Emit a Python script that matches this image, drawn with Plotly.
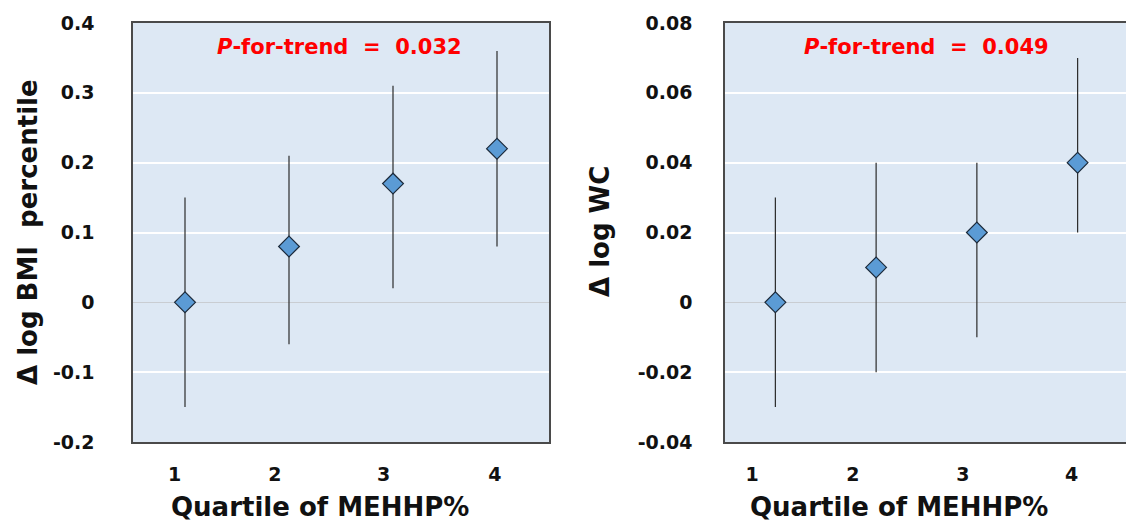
import plotly.graph_objects as go

# ---- data ----
quartiles = [1, 2, 3, 4]
tick_labels = ["1", "2", "3", "4"]

bmi_mean = [0.0, 0.08, 0.17, 0.22]
bmi_lower = [-0.15, -0.06, 0.02, 0.08]
bmi_upper = [0.15, 0.21, 0.31, 0.36]

wc_mean = [0.0, 0.01, 0.02, 0.04]
wc_lower = [-0.03, -0.02, -0.01, 0.02]
wc_upper = [0.03, 0.04, 0.04, 0.07]

p_left = "0.032"
p_right = "0.049"

# tick label positions (labels sit slightly left of the points in the original)
left_tick_pos = [0.90, 1.865, 2.91, 3.98]
right_tick_pos = [0.77, 1.77, 2.86, 3.94]

# page body has an 8px margin; the figure is placed at (8, 8)
OFF = 8
W, H = 1134 - OFF, 525 - OFF
FONT = "DejaVu Sans"


def px(x):
    return (x - OFF) / W


def py(y):
    return (H - (y - OFF)) / H


fig = go.Figure()


def add_series(mean, lo, hi, xa, ya):
    plus = [h - m for h, m in zip(hi, mean)]
    minus = [m - l for m, l in zip(mean, lo)]
    fig.add_trace(go.Scatter(
        x=quartiles, y=mean, mode="markers", xaxis=xa, yaxis=ya,
        marker=dict(symbol="diamond", size=16, color="#5b9bd5",
                    line=dict(color="#1c2a3a", width=1.2)),
        error_y=dict(type="data", symmetric=False, array=plus, arrayminus=minus,
                     width=0, thickness=1.2, color="#2a2a2a"),
        showlegend=False, hoverinfo="skip"))


add_series(bmi_mean, bmi_lower, bmi_upper, "x", "y")
add_series(wc_mean, wc_lower, wc_upper, "x2", "y2")

x1d = [px(133), px(549)]
x2d = [px(725), px(1128)]
yd = [py(442), py(23)]

tickfont = dict(family=FONT, size=19, color="#111", weight="bold")
common_x = dict(range=[0.5, 4.5], showgrid=False, zeroline=False, automargin=False,
                showline=True, mirror=True, linecolor="#4a4a4a", linewidth=1.5,
                ticks="", ticklabelstandoff=14, tickfont=tickfont)
common_y = dict(showgrid=True, gridcolor="#ffffff", gridwidth=1.5, automargin=False,
                zeroline=True, zerolinecolor="#c9cdd2", zerolinewidth=1.2,
                showline=True, mirror=True, linecolor="#4a4a4a", linewidth=1.5,
                ticks="", tickfont=tickfont)

fig.update_layout(
    template="none",
    width=W, height=H, autosize=False,
    margin=dict(l=0, r=0, t=0, b=0, pad=0),
    paper_bgcolor="white", plot_bgcolor="#dde8f4",
    xaxis=dict(domain=x1d, anchor="y", tickvals=left_tick_pos, ticktext=tick_labels, **common_x),
    xaxis2=dict(domain=x2d, anchor="y2", tickvals=right_tick_pos, ticktext=tick_labels, **common_x),
    yaxis=dict(domain=yd, anchor="x", range=[-0.2, 0.4],
               tickvals=[-0.2, -0.1, 0, 0.1, 0.2, 0.3, 0.4],
               ticktext=["-0.2", "-0.1", "0", "0.1", "0.2", "0.3", "0.4"],
               ticklabelstandoff=33, **common_y),
    yaxis2=dict(domain=yd, anchor="x2", range=[-0.04, 0.08],
                tickvals=[-0.04, -0.02, 0, 0.02, 0.04, 0.06, 0.08],
                ticktext=["-0.04", "-0.02", "0", "0.02", "0.04", "0.06", "0.08"],
                ticklabelstandoff=27, **common_y),
)

title_font = dict(family=FONT, size=26, color="#111")
annos = [
    dict(text="<b>Quartile of MEHHP%</b>", x=320, y=507),
    dict(text="<b>Quartile of MEHHP%</b>", x=899, y=507),
    dict(text="<b>Δ log BMI  percentile</b>", x=28, y=232, textangle=-90),
    dict(text="<b>Δ log WC</b>", x=600, y=232, textangle=-90),
]
for a in annos:
    fig.add_annotation(xref="paper", yref="paper", x=px(a["x"]), y=py(a["y"]),
                       text=a["text"], showarrow=False, font=title_font,
                       xanchor="center", yanchor="middle",
                       textangle=a.get("textangle", 0))

p_font = dict(family=FONT, size=21, color="#ff0000")
for xc, pv in [(339, p_left), (926, p_right)]:
    fig.add_annotation(xref="paper", yref="paper", x=px(xc), y=py(47),
                       text=f"<b><i>P</i>-for-trend  =  {pv}</b>", showarrow=False,
                       font=p_font, xanchor="center", yanchor="middle")

fig.write_html("out.html")
